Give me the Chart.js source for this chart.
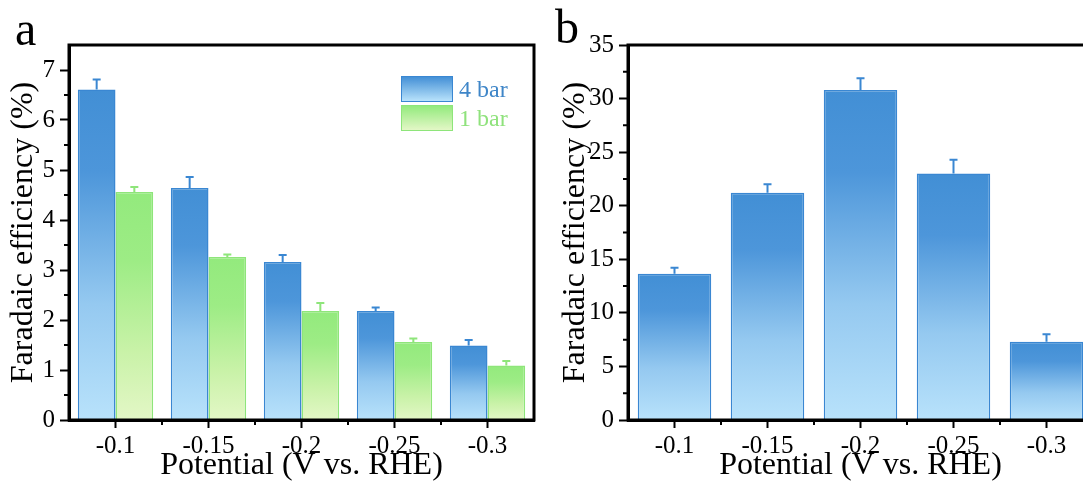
<!DOCTYPE html>
<html lang="en">
<head>
    <meta charset="UTF-8">
    <title>Faradaic efficiency</title>
    <script src="https://cdn.jsdelivr.net/npm/chart.js"></script>
    <style>
        html, body { margin: 0; padding: 0; background: #fff; overflow: hidden; width: 1083px; height: 488px; }
        canvas { position: absolute; top: 0; }
        #chartA { left: 0; }
        #chartB { left: 540px; }
        .key { position: absolute; width: 50px; height: 24px; }
        .keyText { position: absolute; font: 24px 'Liberation Serif', 'Times New Roman', serif; line-height: 26px; }
    </style>
</head>
<body>
    <canvas id="chartA" width="540" height="488"></canvas>
    <canvas id="chartB" width="565" height="488"></canvas>

    <div class="key" style="left:401px;top:76px;border:1.5px solid #3a87d2;background:linear-gradient(#4490d6,#b8e2fb);"></div>
    <div class="keyText" style="left:459px;top:76px;color:#3f86c8;">4 bar</div>
    <div class="key" style="left:401px;top:105px;border:1.5px solid #8ee57a;background:linear-gradient(#93ea7d,#e3f7c6);"></div>
    <div class="keyText" style="left:459px;top:105px;color:#8fe27c;">1 bar</div>

    <script>
        // values
        const potentials = ['-0.1', '-0.15', '-0.2', '-0.25', '-0.3'];
        const fe4bar = [6.61, 4.64, 3.16, 2.18, 1.49];
        const err4bar = [0.20, 0.22, 0.14, 0.07, 0.11];
        const fe1bar = [4.56, 3.26, 2.18, 1.56, 1.09];
        const err1bar = [0.10, 0.05, 0.16, 0.07, 0.09];
        const feB = [13.66, 21.2, 30.8, 23.0, 7.3];
        const errB = [0.56, 0.8, 1.1, 1.3, 0.7];
        const ticksA = [0, 1, 2, 3, 4, 5, 6, 7];
        const ticksB = [0, 5, 10, 15, 20, 25, 30, 35];

        Chart.defaults.font.family = "'Liberation Serif', 'Times New Roman', serif";
        Chart.defaults.color = '#000';

        const blueStops = [[0, '#428fd5'], [0.25, '#4d96da'], [0.65, '#95c9f0'], [1, '#b8e2fb']];
        const greenStops = [[0, '#93ea7d'], [0.3, '#9dec85'], [0.7, '#c9f2a8'], [1, '#e3f7c6']];

        function barFill(stops) {
            return (c) => {
                const ch = c.chart;
                if (!ch.chartArea || c.type !== 'data') return stops[0][1];
                const y = ch.scales.y;
                const top = y.getPixelForValue(c.raw);
                const base = y.getPixelForValue(0);
                const g = ch.ctx.createLinearGradient(0, top, 0, base);
                stops.forEach(([o, col]) => g.addColorStop(o, col));
                return g;
            };
        }

        // error bars (upper half only), frame, minor ticks, panel letter
        const extras = {
            id: 'extras',
            afterDatasetsDraw(chart) {
                const ctx = chart.ctx;
                const y = chart.scales.y;
                ctx.save();
                chart.data.datasets.forEach((ds, i) => {
                    const meta = chart.getDatasetMeta(i);
                    ctx.strokeStyle = ds.borderColor;
                    ctx.lineWidth = 2;
                    meta.data.forEach((bar, j) => {
                        const yTop = y.getPixelForValue(ds.data[j] + ds.errors[j]);
                        ctx.beginPath();
                        ctx.moveTo(bar.x, bar.y);
                        ctx.lineTo(bar.x, yTop);
                        ctx.moveTo(bar.x - 4, yTop);
                        ctx.lineTo(bar.x + 4, yTop);
                        ctx.stroke();
                    });
                });
                ctx.restore();
            },
            afterDraw(chart, args, opts) {
                const ctx = chart.ctx;
                const a = chart.chartArea;
                const x = chart.scales.x;
                const y = chart.scales.y;
                ctx.save();
                ctx.strokeStyle = '#000';
                ctx.lineWidth = 3;
                ctx.strokeRect(a.left, a.top, a.right - a.left, a.bottom - a.top);

                ctx.lineWidth = 2;
                ctx.beginPath();
                for (let i = 0; i < potentials.length - 1; i++) {
                    const px = (x.getPixelForValue(i) + x.getPixelForValue(i + 1)) / 2;
                    ctx.moveTo(px, a.bottom);
                    ctx.lineTo(px, a.bottom + 5);
                }
                for (let v = opts.minor; v < y.max; v += opts.minor * 2) {
                    const py = y.getPixelForValue(v);
                    ctx.moveTo(a.left, py);
                    ctx.lineTo(a.left - 5, py);
                }
                ctx.stroke();

                ctx.fillStyle = '#000';
                ctx.font = "48px 'Liberation Serif', 'Times New Roman', serif";
                ctx.textBaseline = 'alphabetic';
                ctx.fillText(opts.letter, 15, opts.letterY);
                ctx.restore();
            }
        };

        function makeOptions(yMax, yTicks, yWidth, titlePad, right, letter, letterY, catPct) {
            const step = yTicks[1] - yTicks[0];
            return {
                responsive: false,
                devicePixelRatio: 1,
                animation: false,
                layout: { padding: { top: 45, right: right, bottom: 0, left: 0 } },
                datasets: { bar: { categoryPercentage: catPct, barPercentage: 1 } },
                plugins: {
                    legend: { display: false },
                    tooltip: { enabled: false },
                    extras: { minor: step / 2, letter: letter, letterY: letterY }
                },
                scales: {
                    x: {
                        offset: true,
                        grid: { offset: false, drawOnChartArea: false, tickLength: 8, tickWidth: 2, tickColor: '#000' },
                        border: { color: '#000', width: 3 },
                        ticks: { font: { size: 25 }, padding: 3, maxRotation: 0 },
                        title: { display: true, text: 'Potential (V vs. RHE)', font: { size: 32 }, padding: { top: 0, bottom: 3 } },
                        afterFit: (s) => { s.height = 68; }
                    },
                    y: {
                        min: 0,
                        max: yMax,
                        grid: { drawOnChartArea: false, tickLength: 9, tickWidth: 2, tickColor: '#000' },
                        border: { color: '#000', width: 3 },
                        ticks: { stepSize: step, font: { size: 25 }, padding: 5 },
                        afterBuildTicks: (s) => { s.ticks = yTicks.map(v => ({ value: v })); },
                        title: { display: true, text: 'Faradaic efficiency (%)', font: { size: 32 }, padding: { top: titlePad, bottom: 0 } },
                        afterFit: (s) => { s.width = yWidth; }
                    }
                }
            };
        }

        new Chart(document.getElementById('chartA'), {
            type: 'bar',
            data: {
                labels: potentials,
                datasets: [{
                    label: '4 bar',
                    data: fe4bar,
                    errors: err4bar,
                    backgroundColor: barFill(blueStops),
                    borderColor: '#3a87d2',
                    borderWidth: 1.5
                }, {
                    label: '1 bar',
                    data: fe1bar,
                    errors: err1bar,
                    backgroundColor: barFill(greenStops),
                    borderColor: '#8ee57a',
                    borderWidth: 1.5
                }]
            },
            options: makeOptions(7.5, ticksA, 69, 4, 6, 'a', 45, 0.81),
            plugins: [extras]
        });

        new Chart(document.getElementById('chartB'), {
            type: 'bar',
            data: {
                labels: potentials,
                datasets: [{
                    label: 'FE',
                    data: feB,
                    errors: errB,
                    backgroundColor: barFill(blueStops),
                    borderColor: '#3a87d2',
                    borderWidth: 1.5
                }]
            },
            options: makeOptions(35, ticksB, 88, 16, 12, 'b', 43, 0.79),
            plugins: [extras]
        });
    </script>
</body>
</html>
